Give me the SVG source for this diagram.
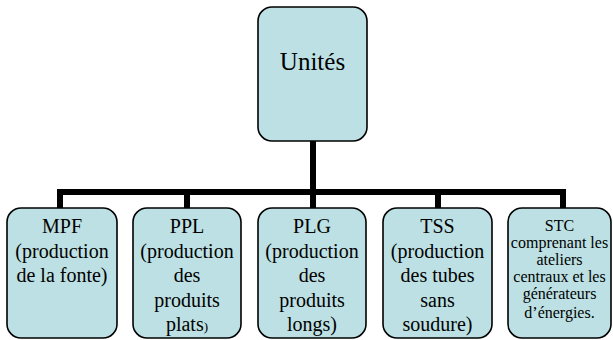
<svg xmlns="http://www.w3.org/2000/svg" width="613" height="340" viewBox="0 0 613 340">
<style>
.box{fill:#bce0e3;stroke:#000;stroke-width:1.6}
.t{font-family:"Liberation Serif","Times New Roman",serif;font-size:20px;fill:#000;text-anchor:middle}
.big{font-size:25px}
.s{font-family:"Liberation Serif","Times New Roman",serif;font-size:16px;fill:#000;text-anchor:middle}
.conn{stroke:#000;stroke-width:6;fill:none}
</style>
<rect width="613" height="340" fill="#fff"/>
<g id="connectors">
<path class="conn" d="M313 141V192M60 192H563M60 189V208M187 189V208M313 189V208M438 189V208M563 189V208"/>
</g>
<g id="unites">
<rect class="box" x="258" y="7" width="109" height="134" rx="14"/>
<text class="t big" x="312.5" y="70">Unités</text>
</g>
<g id="mpf">
<rect class="box" x="7" y="208" width="110" height="130" rx="14"/>
<text class="t" x="62"><tspan x="62" y="233">MPF</tspan><tspan x="62" y="258">(production</tspan><tspan x="62" y="282">de la fonte)</tspan></text>
</g>
<g id="ppl">
<rect class="box" x="133" y="208" width="108" height="130" rx="14"/>
<text class="t" x="187"><tspan x="187" y="233">PPL</tspan><tspan x="187" y="258">(production</tspan><tspan x="187" y="282">des</tspan><tspan x="187" y="307">produits</tspan><tspan x="187" y="331">plats<tspan style="font-size:13px">)</tspan></tspan></text>
</g>
<g id="plg">
<rect class="box" x="258" y="208" width="108" height="130" rx="14"/>
<text class="t" x="312"><tspan x="312" y="233">PLG</tspan><tspan x="312" y="258">(production</tspan><tspan x="312" y="282">des</tspan><tspan x="312" y="307">produits</tspan><tspan x="312" y="331">longs)</tspan></text>
</g>
<g id="tss">
<rect class="box" x="383" y="208" width="109" height="130" rx="14"/>
<text class="t" x="437.5"><tspan x="437.5" y="233">TSS</tspan><tspan x="437.5" y="258">(production</tspan><tspan x="437.5" y="282">des tubes</tspan><tspan x="437.5" y="307">sans</tspan><tspan x="437.5" y="331">soudure)</tspan></text>
</g>
<g id="stc">
<rect class="box" x="508" y="208" width="103" height="130" rx="14"/>
<text class="s" x="559.5"><tspan x="559.5" y="231">STC</tspan><tspan x="559.5" y="248">comprenant les</tspan><tspan x="559.5" y="265">ateliers</tspan><tspan x="559.5" y="282">centraux et les</tspan><tspan x="559.5" y="299">générateurs</tspan><tspan x="559.5" y="318">d’énergies.</tspan></text>
</g>
</svg>
